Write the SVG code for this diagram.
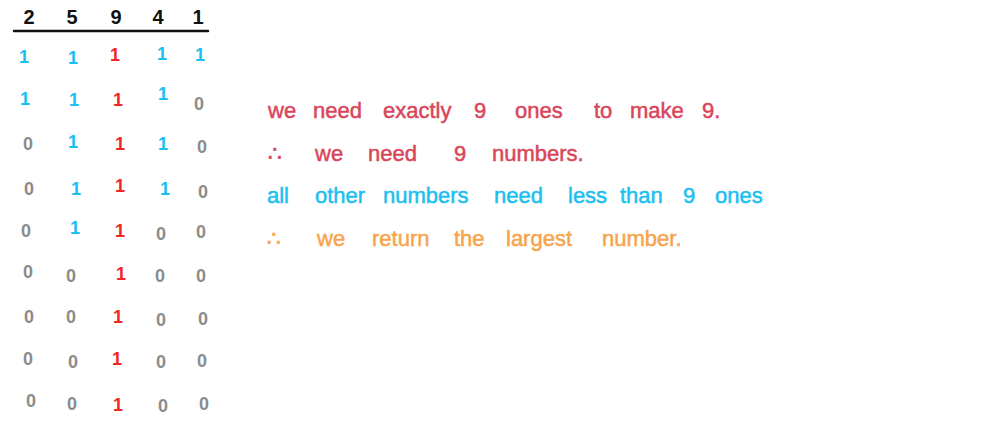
<svg xmlns="http://www.w3.org/2000/svg" width="1000" height="422" viewBox="0 0 1000 422">
<style>
.hd{font-family:"Liberation Sans","DejaVu Sans",sans-serif;font-size:20px;fill:#111;text-anchor:middle;font-weight:bold}
.c{font-family:"Liberation Sans","DejaVu Sans",sans-serif;font-size:18px;text-anchor:middle;font-weight:bold}
.b{fill:#18c0f2}
.r{fill:#f22626}
.z{fill:#8c8c8c}
.n{font-family:"Liberation Sans","DejaVu Sans",sans-serif;font-size:22px;stroke-width:0.5}
.nr{fill:#d9465a;stroke:#d9465a}
.nb{fill:#1cc0f0;stroke:#1cc0f0}
.no{fill:#f7a44c;stroke:#f7a44c}
</style>
<rect width="1000" height="422" fill="#fff"/>
<g id="header">
<text class="hd" x="29" y="24">2</text>
<text class="hd" x="72" y="24">5</text>
<text class="hd" x="116" y="24">9</text>
<text class="hd" x="158" y="24">4</text>
<text class="hd" x="198" y="24">1</text>
<line x1="14" y1="31" x2="208" y2="31" stroke="#111" stroke-width="2.5" stroke-linecap="round"/>
</g>
<g id="table">
<g id="row1">
<text class="c b" x="24" y="63">1</text><text class="c b" x="73" y="64">1</text><text class="c r" x="115" y="61">1</text><text class="c b" x="162" y="60">1</text><text class="c b" x="200" y="61">1</text>
</g>
<g id="row2">
<text class="c b" x="25" y="105">1</text><text class="c b" x="74" y="106">1</text><text class="c r" x="118" y="106">1</text><text class="c b" x="163" y="100">1</text><text class="c z" x="199" y="110">0</text>
</g>
<g id="row3">
<text class="c z" x="28" y="150">0</text><text class="c b" x="73" y="148">1</text><text class="c r" x="120" y="150">1</text><text class="c b" x="163" y="150">1</text><text class="c z" x="202" y="153">0</text>
</g>
<g id="row4">
<text class="c z" x="29" y="195">0</text><text class="c b" x="76" y="195">1</text><text class="c r" x="120" y="192">1</text><text class="c b" x="165" y="195">1</text><text class="c z" x="203" y="198">0</text>
</g>
<g id="row5">
<text class="c z" x="26" y="237">0</text><text class="c b" x="75" y="234">1</text><text class="c r" x="120" y="237">1</text><text class="c z" x="161" y="240">0</text><text class="c z" x="201" y="238">0</text>
</g>
<g id="row6">
<text class="c z" x="28" y="278">0</text><text class="c z" x="71" y="282">0</text><text class="c r" x="121" y="280">1</text><text class="c z" x="160" y="282">0</text><text class="c z" x="201" y="282">0</text>
</g>
<g id="row7">
<text class="c z" x="29" y="323">0</text><text class="c z" x="71" y="323">0</text><text class="c r" x="118" y="323">1</text><text class="c z" x="161" y="326">0</text><text class="c z" x="203" y="325">0</text>
</g>
<g id="row8">
<text class="c z" x="28" y="365">0</text><text class="c z" x="73" y="368">0</text><text class="c r" x="117" y="365">1</text><text class="c z" x="161" y="368">0</text><text class="c z" x="202" y="367">0</text>
</g>
<g id="row9">
<text class="c z" x="31" y="407">0</text><text class="c z" x="72" y="410">0</text><text class="c r" x="118" y="411">1</text><text class="c z" x="163" y="412">0</text><text class="c z" x="204" y="410">0</text>
</g>
</g>
<g id="notes">
<text class="n nr" y="118"><tspan x="268">we</tspan><tspan x="313">need</tspan><tspan x="383">exactly</tspan><tspan x="474">9</tspan><tspan x="515">ones</tspan><tspan x="594">to</tspan><tspan x="630">make</tspan><tspan x="702">9.</tspan></text>
<text class="n nr" y="161"><tspan x="268">∴</tspan><tspan x="315">we</tspan><tspan x="368">need</tspan><tspan x="454">9</tspan><tspan x="492">numbers.</tspan></text>
<text class="n nb" y="203"><tspan x="267">all</tspan><tspan x="315">other</tspan><tspan x="383">numbers</tspan><tspan x="494">need</tspan><tspan x="568">less</tspan><tspan x="620">than</tspan><tspan x="683">9</tspan><tspan x="715">ones</tspan></text>
<text class="n no" y="246"><tspan x="267">∴</tspan><tspan x="317">we</tspan><tspan x="372">return</tspan><tspan x="454">the</tspan><tspan x="506">largest</tspan><tspan x="602">number.</tspan></text>
</g>
</svg>
